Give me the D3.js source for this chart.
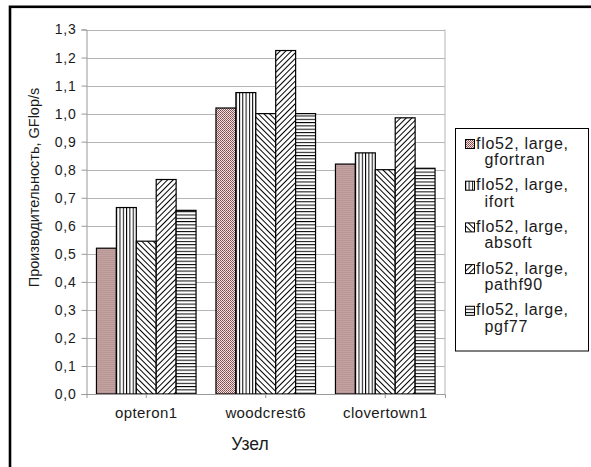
<!DOCTYPE html>
<html><head><meta charset="utf-8">
<script src="https://cdn.jsdelivr.net/npm/d3@7"></script>
<style>
html,body{margin:0;padding:0;background:#fff;overflow:hidden;}
svg{display:block;}
text{font-family:"Liberation Sans",Arial,sans-serif;fill:#1a1a1a;}
</style></head>
<body><svg id="c" width="591" height="467"></svg>
<script>
const categories = ["opteron1", "woodcrest6", "clovertown1"];
const seriesNames = ["flo52, large, gfortran", "flo52, large, ifort", "flo52, large, absoft", "flo52, large, pathf90", "flo52, large, pgf77"];
const gfortran = [0.52, 1.02, 0.82];
const ifort    = [0.665, 1.075, 0.86];
const absoft   = [0.545, 1.0, 0.80];
const pathf90  = [0.765, 1.225, 0.985];
const pgf77    = [0.655, 1.0, 0.805];
const yTicks = [0,0.1,0.2,0.3,0.4,0.5,0.6,0.7,0.8,0.9,1.0,1.1,1.2,1.3];
const yTickLabels = ["0,0","0,1","0,2","0,3","0,4","0,5","0,6","0,7","0,8","0,9","1,0","1,1","1,2","1,3"];
const yTitle = "Производительность, GFlop/s";
const xTitle = "Узел";

const seriesValues = [gfortran, ifort, absoft, pathf90, pgf77];
const patternIds = ["pDots","pVert","pBack","pFwd","pHoriz"];

const svg = d3.select("#c");
const defs = svg.append("defs");
{
  const p = defs.append("pattern").attr("id","pDots").attr("patternUnits","userSpaceOnUse").attr("width",2).attr("height",2);
  p.append("rect").attr("width",2).attr("height",2).attr("fill","#efe2e2");
  p.append("rect").attr("width",1).attr("height",1).attr("fill","#824c4c");
  p.append("rect").attr("x",1).attr("y",1).attr("width",1).attr("height",1).attr("fill","#946060");
}
{
  const p = defs.append("pattern").attr("id","pVert").attr("patternUnits","userSpaceOnUse").attr("width",3.3).attr("height",4);
  p.append("rect").attr("width",3.3).attr("height",4).attr("fill","#fff");
  p.append("rect").attr("x",0).attr("width",1).attr("height",4).attr("fill","#000");
}
{
  const p = defs.append("pattern").attr("id","pHoriz").attr("patternUnits","userSpaceOnUse").attr("width",4).attr("height",3.3);
  p.append("rect").attr("width",4).attr("height",3.3).attr("fill","#fff");
  p.append("rect").attr("y",0).attr("width",4).attr("height",1).attr("fill","#000");
}
{
  const p = defs.append("pattern").attr("id","pBack").attr("patternUnits","userSpaceOnUse").attr("width",4).attr("height",4).attr("patternTransform","rotate(-45)");
  p.append("rect").attr("width",4).attr("height",4).attr("fill","#fff");
  p.append("rect").attr("width",1).attr("height",4).attr("fill","#000");
}
{
  const p = defs.append("pattern").attr("id","pFwd").attr("patternUnits","userSpaceOnUse").attr("width",4).attr("height",4).attr("patternTransform","rotate(45)");
  p.append("rect").attr("width",4).attr("height",4).attr("fill","#fff");
  p.append("rect").attr("width",1).attr("height",4).attr("fill","#000");
}

// outer border (chart area), cut off on right and bottom
svg.append("rect").attr("x",10).attr("y",6.8).attr("width",640).attr("height",540)
  .attr("fill","none").attr("stroke","#000").attr("stroke-width",2.6);

const L = 86.5, R = 445, T = 29.5, B = 394;
const y = d3.scaleLinear().domain([0,1.3]).range([B,T]);
const x0 = d3.scaleBand().domain(categories).range([L,R]).paddingInner(0).paddingOuter(0);
const bw = x0.bandwidth();
const x1 = d3.scaleBand().domain(seriesNames).range([bw/12, bw*11/12]).padding(0);

svg.append("g").selectAll("line").data(yTicks).join("line")
  .attr("x1",L).attr("x2",R).attr("y1",d=>Math.round(y(d))+0.5).attr("y2",d=>Math.round(y(d))+0.5)
  .attr("stroke","#b5b5b5").attr("stroke-width",1);
svg.append("line").attr("x1",R).attr("x2",R).attr("y1",T).attr("y2",B).attr("stroke","#b5b5b5");

const yAxis = d3.axisLeft(y).tickValues(yTicks).tickFormat((d,i)=>yTickLabels[i]).tickSize(5).tickPadding(5);
const gy = svg.append("g").attr("transform",`translate(${L},0)`).call(yAxis);
gy.select(".domain").attr("stroke","#999");
gy.selectAll(".tick line").attr("stroke","#999");
gy.selectAll(".tick text").attr("font-size","14px").attr("letter-spacing","0.8px").attr("fill","#1a1a1a");

const groups = svg.append("g").selectAll("g").data(categories).join("g")
  .attr("transform",d=>`translate(${x0(d)},0)`);
groups.selectAll("rect").data((c,ci)=>seriesNames.map((s,si)=>({s,si,v:seriesValues[si][ci]}))).join("rect")
  .attr("x",d=>x1(d.s)).attr("width",x1.bandwidth())
  .attr("y",d=>y(d.v)).attr("height",d=>B-y(d.v))
  .attr("fill",d=>`url(#${patternIds[d.si]})`)
  .attr("stroke","#000").attr("stroke-width",1.2);

const xAxis = d3.axisBottom(x0).tickSize(4).tickPadding(9);
const gx = svg.append("g").attr("transform",`translate(0,${B})`).call(xAxis);
gx.select(".domain").attr("stroke","#999");
gx.selectAll(".tick line").attr("stroke","#999");
gx.selectAll(".tick text").attr("font-size","15px").attr("letter-spacing","0.4px").attr("fill","#1a1a1a");

svg.append("text").attr("transform","translate(39,187.5) rotate(-90)").attr("text-anchor","middle")
  .attr("font-size","14.5px").text(yTitle);
svg.append("text").attr("x",250).attr("y",450).attr("text-anchor","middle")
  .attr("font-size","17.5px").text(xTitle);

const lg = svg.append("g");
lg.append("rect").attr("x",455.5).attr("y",128.5).attr("width",133).attr("height",222.5)
  .attr("fill","#fff").attr("stroke","#000").attr("stroke-width",1);
const items = lg.selectAll("g.item").data(seriesNames).join("g").attr("class","item")
  .attr("transform",(d,i)=>`translate(0,${i*41.7})`);
items.append("rect").attr("x",465.5).attr("y",139.5).attr("width",9).attr("height",9)
  .attr("fill",(d,i)=>`url(#${patternIds[i]})`).attr("stroke","#000").attr("stroke-width",1);
items.append("text").attr("x",476).attr("y",148.5).attr("font-size","16px").attr("letter-spacing","0.7px")
  .text(d=>d.split(", ").slice(0,2).join(", ")+",");
items.append("text").attr("x",484.5).attr("y",165).attr("font-size","16px").attr("letter-spacing","0.7px")
  .text(d=>d.split(", ")[2]);
</script></body></html>
